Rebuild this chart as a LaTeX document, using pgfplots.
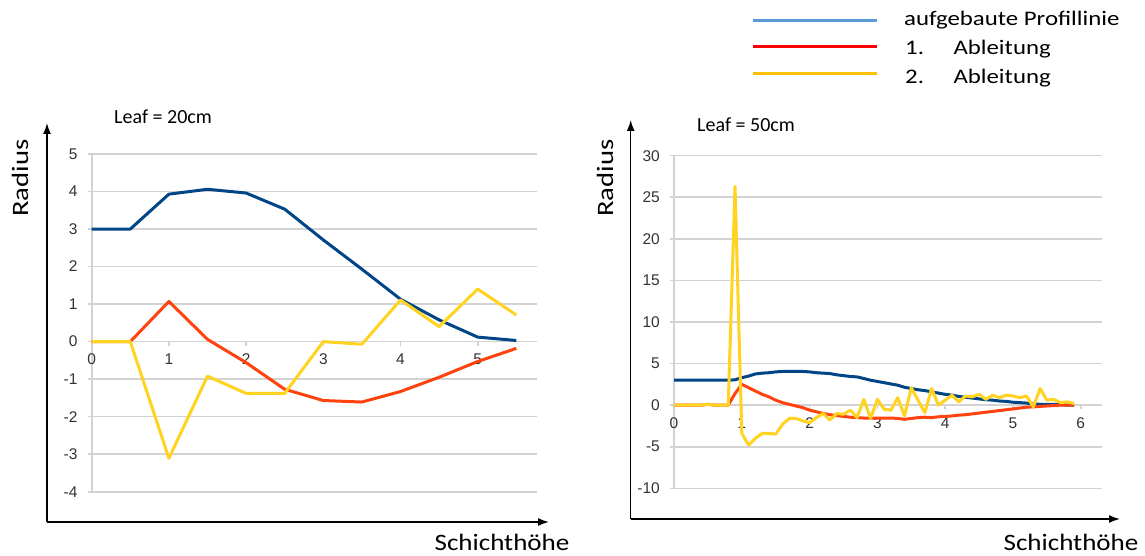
\documentclass[border=0pt]{standalone}
\usepackage{fontspec}
\setmainfont{Carlito}
\newfontfamily\tickfont{Liberation Sans}
\usepackage{graphicx}
\usepackage{pgfplots}
\usepackage{pgfplotstable}
\pgfplotsset{compat=1.18}
\usetikzlibrary{arrows.meta}
\definecolor{lblue}{HTML}{004586}
\definecolor{lred}{HTML}{FF420E}
\definecolor{lyel}{HTML}{FFD320}
\definecolor{gridc}{HTML}{D3D3D3}
\definecolor{tickc}{HTML}{333333}
\definecolor{legblue}{HTML}{5B9BD5}
\definecolor{legred}{HTML}{FF0000}
\definecolor{legyel}{HTML}{FFC000}

\pgfplotstableread{
x b r y
0.0 3.0 0.0 0.0
0.5 3.0 0.0 0.0
1.0 3.93 1.07 -3.11
1.5 4.06 0.06 -0.92
2.0 3.96 -0.56 -1.38
2.5 3.53 -1.27 -1.38
3.0 2.71 -1.57 0.0
3.5 1.93 -1.61 -0.07
4.0 1.13 -1.33 1.11
4.5 0.58 -0.95 0.40
5.0 0.12 -0.53 1.40
5.5 0.03 -0.18 0.71
}\leftdata

\pgfplotstableread{
x b r y
0.0 3.0 0.0 0.0
0.1 3.0 0.0 0.0
0.2 3.0 0.0 0.0
0.3 3.0 0.0 0.0
0.4 3.0 0.0 0.0
0.5 3.0 0.1 0.1
0.6 3.0 0.0 0.0
0.7 3.0 0.0 0.0
0.8 3.0 0.0 0.0
0.9 3.05 1.4 26.3
1.0 3.3 2.5 -3.4
1.1 3.5 2.1 -4.8
1.2 3.75 1.7 -4.0
1.3 3.85 1.3 -3.4
1.4 3.9 1.0 -3.4
1.5 4.0 0.6 -3.5
1.6 4.05 0.3 -2.3
1.7 4.05 0.1 -1.6
1.8 4.05 -0.1 -1.6
1.9 4.05 -0.3 -1.9
2.0 4.0 -0.6 -2.1
2.1 3.9 -0.8 -1.5
2.2 3.85 -1.0 -1.0
2.3 3.8 -1.15 -1.8
2.4 3.65 -1.25 -1.0
2.5 3.55 -1.35 -1.1
2.6 3.45 -1.45 -0.6
2.7 3.4 -1.5 -1.5
2.8 3.2 -1.55 0.7
2.9 3.0 -1.55 -1.6
3.0 2.85 -1.55 0.7
3.1 2.7 -1.55 -0.5
3.2 2.55 -1.55 -0.6
3.3 2.4 -1.6 0.9
3.4 2.15 -1.7 -1.3
3.5 2.0 -1.6 2.1
3.6 1.85 -1.5 0.6
3.7 1.75 -1.45 -0.9
3.8 1.6 -1.5 2.0
3.9 1.45 -1.4 0.0
4.0 1.3 -1.35 0.6
4.1 1.2 -1.3 1.2
4.2 1.05 -1.2 0.4
4.3 0.95 -1.15 1.1
4.4 0.85 -1.05 1.0
4.5 0.75 -0.95 1.3
4.6 0.65 -0.85 0.7
4.7 0.6 -0.75 1.2
4.8 0.5 -0.65 0.9
4.9 0.45 -0.55 1.2
5.0 0.35 -0.45 1.1
5.1 0.3 -0.35 0.9
5.2 0.25 -0.25 1.1
5.3 0.15 -0.2 -0.2
5.4 0.1 -0.15 2.0
5.5 0.1 -0.1 0.6
5.6 0.1 -0.05 0.7
5.7 0.05 0.0 0.3
5.8 0.0 0.0 0.4
5.9 0.0 0.0 0.2
}\rightdata

\pgfplotsset{
  mystyle/.style={
    scale only axis,
    anchor=south west,
    axis x line*=middle,
    axis y line*=left,
    hide obscured x ticks=false,
    hide obscured y ticks=false,
    axis line style={gridc, line width=1.6pt},
    ymajorgrids,
    grid style={gridc, line width=1.6pt},
    major tick style={gridc, line width=1.6pt},
    tick align=outside,
    major tick length=4pt,
    ticklabel style={font=\tickfont\fontsize{15.5}{17}\selectfont, text=tickc},
    /pgf/number format/assume math mode=true,
    yticklabel style={anchor=east, inner sep=0pt, xshift=-10pt},
    xticklabel style={anchor=north, inner sep=0pt, yshift=-8pt},
    every axis plot/.append style={line width=3pt, line join=round, no marks},
  }
}

\begin{document}
\begin{tikzpicture}
\path[use as bounding box] (0pt,0pt) rectangle (1145pt,555pt);

% Left chart
\begin{axis}[mystyle, at={(91.7pt,63.3pt)}, width=445.3pt, height=337.7pt,
  xmin=0, xmax=5.768, ymin=-4, ymax=5,
  xtick={0,1,2,3,4,5}, ytick={-4,-3,-2,-1,0,1,2,3,4,5}]
\addplot[lblue] table[x=x,y=b] {\leftdata};
\addplot[lred] table[x=x,y=r] {\leftdata};
\addplot[lyel] table[x=x,y=y] {\leftdata};
\end{axis}

% Right chart
\begin{axis}[mystyle, at={(674pt,66.7pt)}, width=428pt, height=332.6pt,
  xmin=0, xmax=6.313, ymin=-10, ymax=30,
  xtick={0,1,2,3,4,5,6}, ytick={-10,-5,0,5,10,15,20,25,30}]
\addplot[lblue] table[x=x,y=b] {\rightdata};
\addplot[lred] table[x=x,y=r] {\rightdata};
\addplot[lyel] table[x=x,y=y] {\rightdata};
\end{axis}

% outer arrows
\draw[line width=1.5pt, -{Latex[length=11pt,width=8pt]}] (47pt,33pt) -- (47pt,432pt);
\draw[line width=1.5pt, -{Latex[length=11pt,width=8pt]}] (47pt,33pt) -- (549pt,33pt);
\draw[line width=1.5pt, -{Latex[length=11pt,width=8pt]}] (630.7pt,36pt) -- (630.7pt,435pt);
\draw[line width=1.5pt, -{Latex[length=11pt,width=8pt]}] (630.7pt,36pt) -- (1120pt,36pt);

% titles
\node[anchor=west, inner sep=0pt, font=\fontsize{20}{24}\selectfont] at (114pt,438pt) {Leaf = 20cm};
\node[anchor=west, inner sep=0pt, font=\fontsize{20}{24}\selectfont] at (697pt,430pt) {Leaf = 50cm};

% axis labels
\node[rotate=90, inner sep=0pt] at (20pt,377pt) {\scalebox{1.22}[1]{\fontsize{23.5}{28}\selectfont Radius}};
\node[rotate=90, inner sep=0pt] at (605pt,377pt) {\scalebox{1.22}[1]{\fontsize{23.5}{28}\selectfont Radius}};
\node[anchor=base, inner sep=0pt] at (502pt,5pt) {\scalebox{1.15}[1]{\fontsize{23.5}{28}\selectfont Schichth\"ohe}};
\node[anchor=base, inner sep=0pt] at (1071pt,5pt) {\scalebox{1.15}[1]{\fontsize{23.5}{28}\selectfont Schichth\"ohe}};

% legend
\draw[legblue, line width=3pt] (753.3pt,534.3pt) -- (876.7pt,534.3pt);
\draw[legred, line width=3pt] (753.3pt,508.3pt) -- (876.7pt,508.3pt);
\draw[legyel, line width=3pt] (753.3pt,481.7pt) -- (876.7pt,481.7pt);
\node[anchor=base west, inner sep=0pt] at (904pt,529pt) {\scalebox{1.2}[1]{\fontsize{20.7}{24}\selectfont aufgebaute Profillinie}};
\node[anchor=base west, inner sep=0pt] at (905pt,500pt) {\scalebox{1.2}[1]{\fontsize{20.7}{24}\selectfont 1.}};
\node[anchor=base west, inner sep=0pt] at (953.3pt,500pt) {\scalebox{1.2}[1]{\fontsize{20.7}{24}\selectfont Ableitung}};
\node[anchor=base west, inner sep=0pt] at (905pt,471.7pt) {\scalebox{1.2}[1]{\fontsize{20.7}{24}\selectfont 2.}};
\node[anchor=base west, inner sep=0pt] at (953.3pt,471.7pt) {\scalebox{1.2}[1]{\fontsize{20.7}{24}\selectfont Ableitung}};
\end{tikzpicture}
\end{document}
